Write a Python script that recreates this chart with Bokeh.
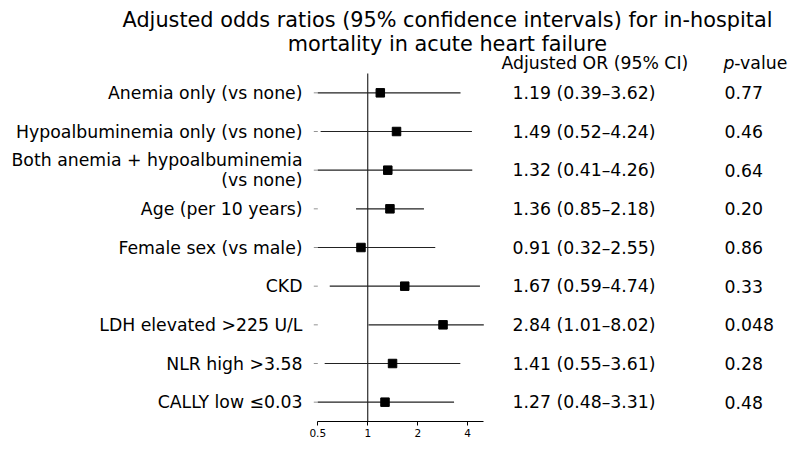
import numpy as np
from bokeh.plotting import figure
from bokeh.models import Range1d, FixedTicker, Label, LabelSet, ColumnDataSource, LinearScale
from bokeh.core.properties import value
from bokeh.embed import file_html
from bokeh.resources import INLINE

# ---------------- data ----------------
labels = ["Anemia only (vs none)",
          "Hypoalbuminemia only (vs none)",
          "Both anemia + hypoalbuminemia\n(vs none)",
          "Age (per 10 years)",
          "Female sex (vs male)",
          "CKD",
          "LDH elevated >225 U/L",
          "NLR high >3.58",
          "CALLY low \u22640.03"]
odds = [1.19, 1.49, 1.32, 1.36, 0.91, 1.67, 2.84, 1.41, 1.27]
lower = [0.39, 0.52, 0.41, 0.85, 0.32, 0.59, 1.01, 0.55, 0.48]
upper = [3.62, 4.24, 4.26, 2.18, 2.55, 4.74, 8.02, 3.61, 3.31]
pvals = ["0.77", "0.46", "0.64", "0.20", "0.86", "0.33", "0.048", "0.28", "0.48"]
x_ticks = [0.5, 1, 2, 4]
x_tick_labels = ["0.5", "1", "2", "4"]
x_lim = (0.5, 5)

FONT = "DejaVu Sans"
n = len(labels)
rows = list(range(n))
or_text = [f"{o:.2f} ({l:.2f}\u2013{u:.2f})" for o, l, u in zip(odds, lower, upper)]

src = ColumnDataSource(dict(row=rows, label=labels, odds=odds,
                            lo=np.clip(lower, *x_lim), hi=np.clip(upper, *x_lim),
                            ortext=or_text, p=pvals))

# ---------------- layout (pixels) ----------------
W, H = 796, 449
AX_L, AX_R = 317.3, 483.3      # forest axis extent on canvas
FT, FB = 73.0, 421.0           # forest axes top / bottom on canvas
BOTTOM = H - FB
DEC = (AX_R - AX_L) / np.log10(x_lim[1] / x_lim[0])   # px per decade
x_start = x_lim[0] * 10 ** (-AX_L / DEC)
x_end = x_lim[1] * 10 ** ((W - AX_R) / DEC)
U = (FB - FT) / n              # px per row
y_start = n - 0.5
y_end = -0.5 - FT / U
LINE_H = 20.4                  # px between lines of a wrapped label

# label lines (multi-line labels split so every line is right-aligned)
line_txt, line_y = [], []
for r, lab in zip(rows, labels):
    parts = lab.split("\n")
    m = len(parts)
    for k, part in enumerate(parts):
        line_txt.append(part)
        line_y.append(r + (k - (m - 1) / 2) * LINE_H / U)
lsrc = ColumnDataSource(dict(y=line_y, text=line_txt))

p = figure(width=W, height=H, x_axis_type="log",
           x_range=Range1d(x_start, x_end), y_range=Range1d(y_start, y_end),
           output_backend="svg", toolbar_location=None,
           min_border_left=0, min_border_right=0, min_border_top=0,
           min_border_bottom=int(BOTTOM), y_axis_location=None)
p.outline_line_color = None
p.grid.visible = False
p.background_fill_color = "white"
p.border_fill_color = "white"

p.extra_x_ranges["px"] = Range1d(0, W)
p.extra_x_scales["px"] = LinearScale()
p.extra_y_ranges["py"] = Range1d(FB, 0)
p.extra_y_scales["py"] = LinearScale()

# x axis
xa = p.xaxis[0]
xa.bounds = x_lim
xa.ticker = FixedTicker(ticks=x_ticks, minor_ticks=[])
xa.major_label_overrides = {t: s for t, s in zip(x_ticks, x_tick_labels)}
xa.axis_line_color = "black"
xa.axis_line_width = 1
xa.major_tick_out = 4
xa.major_tick_in = 0
xa.minor_tick_line_color = None
xa.major_tick_line_color = "black"
xa.major_label_text_font = FONT
xa.major_label_text_font_size = "10.5px"
xa.major_label_text_color = "black"
xa.major_label_standoff = 3

# y-axis tick marks (left edge of forest axes)
p.segment(x0=AX_L - 4, x1=AX_L, y0="row", y1="row", source=src,
          x_range_name="px", line_color="#777777", line_width=0.8)

# reference line at OR = 1
p.segment(x0=[1], x1=[1], y0=[-0.5], y1=[n - 0.5], line_color="black", line_width=1)

# CIs and points
p.segment(x0="lo", x1="hi", y0="row", y1="row", source=src,
          line_color="#222222", line_width=1.2)
p.scatter(x="odds", y="row", source=src, marker="square", size=8.5,
          fill_color="black", line_color="black")

FS = "17.3px"
TXTS = dict(text_font=value(FONT), text_font_size=value(FS), text_color="black")

# row texts
p.add_layout(LabelSet(x=302, y="y", text="text", source=lsrc, x_range_name="px",
                      text_align="right", text_baseline="middle", **TXTS))
p.add_layout(LabelSet(x=512, y="row", text="ortext", source=src, x_range_name="px",
                      text_align="left", text_baseline="middle", **TXTS))
p.add_layout(LabelSet(x=724, y="row", text="p", source=src, x_range_name="px",
                      text_align="left", text_baseline="middle", **TXTS))

# headers
TXT = dict(text_font=FONT, text_font_size=FS, text_color="black",
           x_range_name="px", y_range_name="py", text_align="left", text_baseline="middle")
p.add_layout(Label(x=501, y=62, text="Adjusted OR (95% CI)", **TXT))
p.add_layout(Label(x=723, y=62, text="p", text_font_style="italic", **TXT))
p.add_layout(Label(x=733.8, y=62, text="-value", **TXT))

# title
TT = dict(x_range_name="px", y_range_name="py", text_align="center",
          text_baseline="middle", text_font=FONT, text_font_size="20.8px",
          text_color="black")
p.add_layout(Label(x=447, y=19.7,
                   text="Adjusted odds ratios (95% confidence intervals) for in-hospital", **TT))
p.add_layout(Label(x=447, y=43.4, text="mortality in acute heart failure", **TT))

open("out.html", "w").write(file_html(p, INLINE))
